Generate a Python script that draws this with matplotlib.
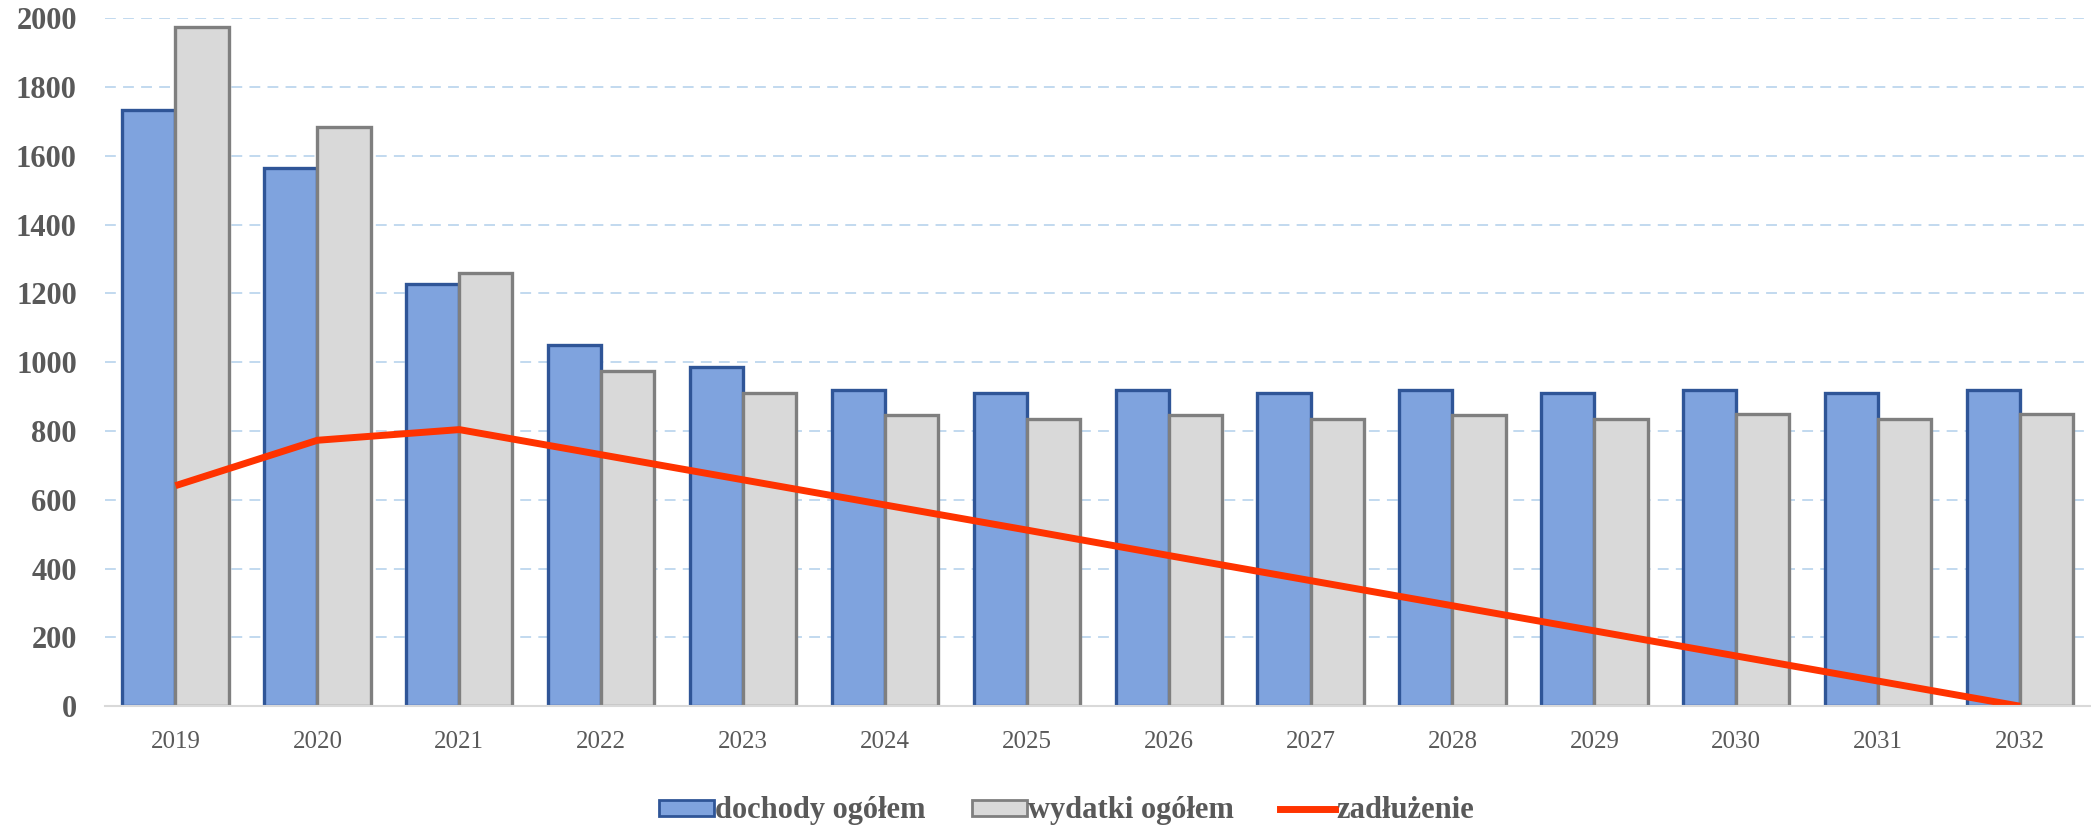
import numpy as np
import matplotlib.pyplot as plt
from matplotlib.patches import Patch
from matplotlib.lines import Line2D

# dane (mln zł)
lata = ['2019', '2020', '2021', '2022', '2023', '2024', '2025',
        '2026', '2027', '2028', '2029', '2030', '2031', '2032']
dochody = [1732, 1565, 1227, 1049, 986, 920, 909, 920, 909, 920, 909, 920, 909, 920]
wydatki = [1973, 1685, 1258, 975, 909, 847, 835, 847, 835, 847, 835, 850, 835, 850]
zadluzenie = [641, 773, 804, 731, 658, 585, 512, 438, 365, 292, 219, 146, 73, 0]

kolor_doch = '#7FA3DE'
kolor_doch_kraw = '#2F5597'
kolor_wyd = '#D9D9D9'
kolor_wyd_kraw = '#7F7F7F'
kolor_zadl = '#FF3300'
kolor_tekst = '#595959'

plt.rcParams['font.family'] = ['Liberation Serif', 'DejaVu Serif']

fig = plt.figure(figsize=(20.91, 8.25), dpi=100)
ax = fig.add_axes([0.050, 0.144, 0.950, 0.834])

x = np.arange(len(lata))
w = 0.375
ax.bar(x - w / 2, dochody, width=w, color=kolor_doch, edgecolor=kolor_doch_kraw, linewidth=2.4, zorder=3)
ax.bar(x + w / 2, wydatki, width=w, color=kolor_wyd, edgecolor=kolor_wyd_kraw, linewidth=2.4, zorder=3)
ax.plot(x, zadluzenie, color=kolor_zadl, linewidth=5, solid_capstyle='butt', zorder=4)

ax.set_xlim(-0.5, len(lata) - 0.5)
ax.set_ylim(0, 2000)
ax.set_yticks(range(0, 2001, 200))
ax.set_xticks(x)
ax.set_xticklabels(lata)

ax.yaxis.grid(True, color='#BDD7EE', linestyle=(0, (6, 4)), linewidth=1.3, zorder=0)
ax.set_axisbelow(True)
for s in ['top', 'right', 'left']:
    ax.spines[s].set_visible(False)
ax.spines['bottom'].set_color('#D9D9D9')
ax.spines['bottom'].set_linewidth(1.5)
ax.spines['bottom'].set_zorder(5)

ax.tick_params(axis='both', length=0, colors=kolor_tekst)
ax.tick_params(axis='x', labelsize=18, pad=18)
ax.tick_params(axis='y', labelsize=22, pad=20)
for t in ax.get_yticklabels():
    t.set_fontweight('semibold')

uchwyty = [
    Patch(facecolor=kolor_doch, edgecolor=kolor_doch_kraw, linewidth=2, label='dochody ogółem'),
    Patch(facecolor=kolor_wyd, edgecolor=kolor_wyd_kraw, linewidth=2, label='wydatki ogółem'),
    Line2D([0], [0], color=kolor_zadl, linewidth=5, label='zadłużenie'),
]
leg = fig.legend(handles=uchwyty, loc='center', bbox_to_anchor=(0.51, 0.017), ncol=3,
                 frameon=False, fontsize=22, handlelength=1.8, handleheight=0.43,
                 handletextpad=0.05, columnspacing=1.5)
for t in leg.get_texts():
    t.set_color(kolor_tekst)
    t.set_fontweight('bold')

fig.savefig('out.png', dpi=100)
